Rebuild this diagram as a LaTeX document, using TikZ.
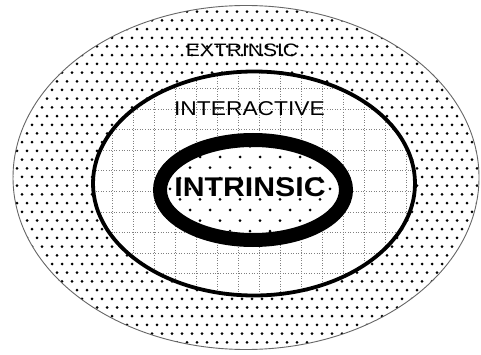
\documentclass[tikz,border=0pt]{standalone}
\usepackage{fontspec}
\setmainfont{Liberation Sans}
\tikzset{
  ring/.style={draw=black},
  gridline/.style={draw=black!50, line width=1pt, dash pattern=on 1pt off 1.6pt},
  dotfill/.style={fill=black},
  lbl/.style={inner sep=0pt, text=black}
}
\begin{document}
\begin{tikzpicture}[x=1pt,y=-1pt]
\useasboundingbox (0,0) rectangle (481,355);
% outer region
\fill[white] (246,177.5) ellipse [x radius=233, y radius=172];
\begin{scope}
  \clip (246,177.5) ellipse [x radius=233, y radius=172];
  \foreach \j in {0,...,41}{
    \pgfmathsetmacro\off{mod(\j,2)*5}
    \foreach \i in {0,...,48}{
      \fill[dotfill] (\i*10+\off+2, \j*8.7+3) circle (1.5);
    }
  }
\end{scope}
\draw[draw=black!60, line width=0.9pt] (246,177.5) ellipse [x radius=233, y radius=172];
% middle region
\fill[white] (254,183.5) ellipse [x radius=161, y radius=112];
\begin{scope}
  \clip (254,183.5) ellipse [x radius=161, y radius=112];
  \foreach \k in {-3,...,13}{
    \draw[gridline] (154+\k*21, 60) -- (154+\k*21, 310);
  }
  \foreach \k in {-3,...,9}{
    \draw[gridline] (80, 130+\k*20.5) -- (430, 130+\k*20.5);
  }
\end{scope}
\draw[ring, line width=3.8pt] (254,183.5) ellipse [x radius=161, y radius=112];
% inner region
\fill[white] (253,190) ellipse [x radius=93, y radius=50];
\begin{scope}
  \clip (253,190) ellipse [x radius=86, y radius=43];
  \foreach \j in {0,...,12}{
    \pgfmathsetmacro\off{mod(\j,2)*10}
    \foreach \i in {6,...,18}{
      \fill[dotfill] (\i*20+\off, 135.8+\j*10.6) circle (1.5);
    }
  }
\end{scope}
\draw[ring, line width=14pt] (253,190) ellipse [x radius=93, y radius=50];
% labels
\node[lbl] (ext) at (242,50) {\fontsize{18}{18}\selectfont\scalebox{1.17}[1]{EXTRINSIC}};
\node[lbl] (inter) at (249.5,108.5) {\fontsize{20}{20}\selectfont\scalebox{1.14}[1]{INTERACTIVE}};
\node[lbl] (intr) at (250,187) {\fontsize{27}{27}\selectfont\bfseries\scalebox{1.12}[1]{INTRINSIC}};
\end{tikzpicture}
\end{document}
